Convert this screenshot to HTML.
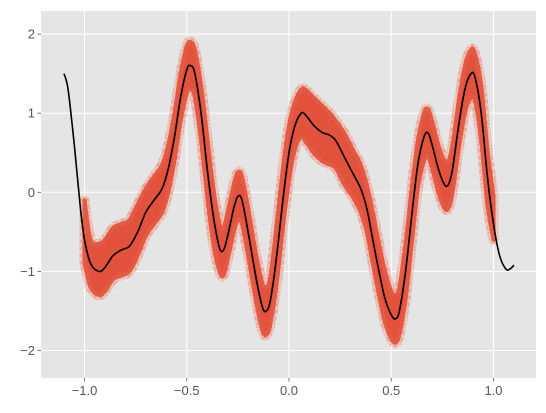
<!DOCTYPE html>
<html><head><meta charset="utf-8"><style>
html,body{margin:0;padding:0;background:#fff;}
svg{display:block;font-family:"Liberation Sans","DejaVu Sans",sans-serif;}
</style></head><body>
<svg id="chart" width="546" height="413" viewBox="0 0 546 413" xmlns="http://www.w3.org/2000/svg">
<defs>
<pattern id="xpat" width="7" height="7" patternUnits="userSpaceOnUse">
<path d="M1,1 L6,6 M6,1 L1,6" stroke="#e8705c" stroke-width="0.8" opacity="0.6"/>
</pattern>
</defs>
<g id="plot"></g>
</svg>
<script>
const lineX=[-1.1,-1.08,-1.05,-1.02,-1.0,-0.97,-0.93,-0.9,-0.86,-0.82,-0.78,-0.74,-0.7,-0.66,-0.62,-0.59,-0.56,-0.53,-0.5,-0.48,-0.46,-0.43,-0.4,-0.37,-0.34,-0.32,-0.3,-0.27,-0.25,-0.23,-0.2,-0.16,-0.13,-0.11,-0.09,-0.06,-0.03,0,0.03,0.06,0.08,0.12,0.16,0.2,0.23,0.27,0.31,0.35,0.38,0.41,0.44,0.47,0.5,0.52,0.54,0.57,0.6,0.63,0.66,0.68,0.7,0.73,0.76,0.78,0.8,0.83,0.86,0.89,0.91,0.94,0.97,1.0,1.03,1.06,1.08,1.1];
const lineY=[1.5,1.3,0.6,-0.2,-0.6,-0.9,-1.0,-0.95,-0.8,-0.73,-0.68,-0.5,-0.25,-0.1,0.05,0.3,0.7,1.2,1.55,1.6,1.5,1.0,0.3,-0.3,-0.7,-0.73,-0.55,-0.2,-0.05,-0.1,-0.5,-1.1,-1.45,-1.5,-1.35,-0.8,-0.1,0.5,0.85,1.0,0.98,0.85,0.76,0.72,0.65,0.45,0.25,0.05,-0.2,-0.6,-1.0,-1.35,-1.55,-1.6,-1.5,-1.0,-0.3,0.35,0.7,0.75,0.6,0.3,0.1,0.1,0.3,0.85,1.3,1.5,1.45,1.0,0.2,-0.4,-0.8,-0.97,-0.97,-0.92];
const bandX=[-1.0,-0.97,-0.93,-0.9,-0.86,-0.82,-0.78,-0.74,-0.7,-0.66,-0.62,-0.59,-0.56,-0.53,-0.5,-0.48,-0.46,-0.43,-0.4,-0.37,-0.34,-0.32,-0.3,-0.27,-0.25,-0.23,-0.2,-0.16,-0.13,-0.11,-0.09,-0.06,-0.03,0,0.03,0.06,0.08,0.12,0.16,0.2,0.23,0.27,0.31,0.35,0.38,0.41,0.44,0.47,0.5,0.52,0.54,0.57,0.6,0.63,0.66,0.68,0.7,0.73,0.76,0.78,0.8,0.83,0.86,0.89,0.91,0.94,0.97,1.0];
const bandUpper=[-0.1,-0.6,-0.65,-0.6,-0.45,-0.4,-0.35,-0.15,0.05,0.2,0.35,0.6,1.0,1.5,1.85,1.9,1.8,1.35,0.7,0.05,-0.4,-0.45,-0.25,0.1,0.25,0.2,-0.2,-0.8,-1.15,-1.2,-1.05,-0.4,0.3,0.85,1.15,1.3,1.3,1.2,1.1,1.0,0.9,0.75,0.55,0.35,0.1,-0.25,-0.65,-1.0,-1.25,-1.3,-1.2,-0.65,0.05,0.65,1.0,1.05,0.9,0.6,0.4,0.4,0.6,1.15,1.6,1.8,1.75,1.35,0.55,-0.05];
const bandLower=[-0.9,-1.2,-1.3,-1.25,-1.1,-1.05,-1.0,-0.8,-0.55,-0.4,-0.25,0.0,0.4,0.9,1.25,1.3,1.2,0.65,-0.05,-0.65,-1.0,-1.05,-0.85,-0.5,-0.35,-0.4,-0.8,-1.4,-1.75,-1.8,-1.65,-1.15,-0.45,0.15,0.55,0.7,0.65,0.5,0.4,0.35,0.3,0.1,-0.05,-0.25,-0.5,-0.9,-1.3,-1.65,-1.85,-1.9,-1.8,-1.35,-0.65,0.05,0.4,0.45,0.3,0.0,-0.2,-0.2,0.0,0.55,1.0,1.2,1.15,0.65,-0.15,-0.6];
const xTicks=[-1.0,-0.5,0.0,0.5,1.0];
const xTickLabels=["\u22121.0","\u22120.5","0.0","0.5","1.0"];
const yTicks=[-2,-1,0,1,2];
const yTickLabels=["\u22122","\u22121","0","1","2"];

const L=41,R=536,T=11,B=378;
const xScale=v=>289+v*204.5;
const yScale=v=>192.3-v*79.1;
const NS="http://www.w3.org/2000/svg";
const g=document.getElementById('plot');
function mk(tag,attrs,parent){const e=document.createElementNS(NS,tag);for(const k in attrs)e.setAttribute(k,attrs[k]);(parent||g).appendChild(e);return e;}
function smooth(p,start){
  let d=start?('M'+p[0][0].toFixed(1)+','+p[0][1].toFixed(1)):('L'+p[0][0].toFixed(1)+','+p[0][1].toFixed(1));
  for(let i=0;i<p.length-1;i++){
    const p0=p[i-1]||p[i],p1=p[i],p2=p[i+1],p3=p[i+2]||p[i+1];
    const c1x=p1[0]+(p2[0]-p0[0])/6,c1y=p1[1]+(p2[1]-p0[1])/6;
    const c2x=p2[0]-(p3[0]-p1[0])/6,c2y=p2[1]-(p3[1]-p1[1])/6;
    d+='C'+c1x.toFixed(1)+','+c1y.toFixed(1)+' '+c2x.toFixed(1)+','+c2y.toFixed(1)+' '+p2[0].toFixed(1)+','+p2[1].toFixed(1);
  }
  return d;
}

const bg=mk('rect',{x:L,y:T,width:R-L,height:B-T,fill:'#e5e5e5'});



xTicks.forEach((v,i)=>{
  const x=xScale(v);
  const gl=mk('line',{x1:x,x2:x,y1:T,y2:B,stroke:'#fff','stroke-width':1});
  
  
  const tk=mk('line',{x1:x,x2:x,y1:B,y2:B+3.5,stroke:'#555','stroke-width':0.8});
  
  
  const t=mk('text',{x:x,y:B+17,'text-anchor':'middle','font-size':'13px',fill:'#555'});
  t.textContent=xTickLabels[i];
  
  
});
yTicks.forEach((v,i)=>{
  const y=yScale(v);
  const gl=mk('line',{x1:L,x2:R,y1:y,y2:y,stroke:'#fff','stroke-width':1});
  
  
  const tk=mk('line',{x1:L-3.5,x2:L,y1:y,y2:y,stroke:'#555','stroke-width':0.8});
  
  
  const t=mk('text',{x:L-6,y:y+4.5,'text-anchor':'end','font-size':'13px',fill:'#555'});
  t.textContent=yTickLabels[i];
  
  
});

const up=bandX.map((v,i)=>[xScale(v),yScale(bandUpper[i])]);
const lo=bandX.map((v,i)=>[xScale(v),yScale(bandLower[i])]).reverse();
const d=smooth(up,true)+smooth(lo,false)+'Z';
const halo=mk('path',{d:d,fill:'#eea595',stroke:'#eea595','stroke-width':10,'stroke-linejoin':'round',opacity:0.45});


const tex=mk('path',{d:d,fill:'url(#xpat)',stroke:'url(#xpat)','stroke-width':10,'stroke-linejoin':'round'});


const band=mk('path',{d:d,fill:'#e24a33',stroke:'#e4523b','stroke-width':4,'stroke-linejoin':'round',opacity:0.92});



const lp=lineX.map((v,i)=>[xScale(v),yScale(lineY[i])]);
const ln=mk('path',{d:smooth(lp,true),fill:'none',stroke:'#000','stroke-width':1.6,'stroke-linejoin':'round'});


</script>
</body></html>
